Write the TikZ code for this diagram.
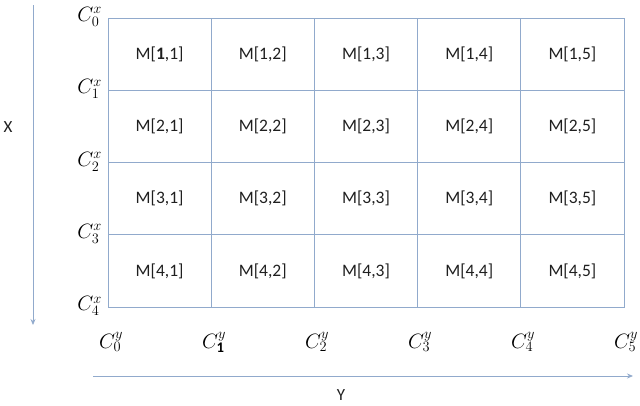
\documentclass[tikz,border=0pt]{standalone}
\usepackage{fontspec}
\setmainfont{Carlito}
\usetikzlibrary{arrows.meta}
\definecolor{gridblue}{RGB}{145,170,204}
\begin{document}
\begin{tikzpicture}[x=1pt,y=-1pt,
  cell/.style={draw=gridblue,line width=0.8pt,minimum width=103.2pt,minimum height=72.25pt,inner sep=0pt,font=\fontsize{17.5}{20}\selectfont,text=black!88},
  clab/.style={font=\fontsize{21}{24}\selectfont,inner sep=0pt},
  axis/.style={draw=gridblue,line width=0.8pt,-{Stealth[length=6pt,width=5pt]}},
  axlab/.style={font=\fontsize{17}{19}\selectfont,inner sep=0pt,text=black!88}]
\useasboundingbox (0,0) rectangle (640,405);
\foreach \r in {1,...,4}{
  \foreach \c in {1,...,5}{
    \ifnum\r=1 \ifnum\c=1
      \node[cell] (m\r\c) at ({108+103.2*(\c-0.5)},{18+72.25*(\r-0.5)}) {M[\textbf{1},1]};
    \else
      \node[cell] (m\r\c) at ({108+103.2*(\c-0.5)},{18+72.25*(\r-0.5)}) {M[\r,\c]};
    \fi\else
      \node[cell] (m\r\c) at ({108+103.2*(\c-0.5)},{18+72.25*(\r-0.5)}) {M[\r,\c]};
    \fi
  }
}
\foreach \r in {0,...,4}{
  \node[clab,anchor=east] (cx\r) at (102,{18+72.25*\r-1}) {$C_{\r}^{x}$};
}
\foreach \c in {0,...,5}{
  \ifnum\c=1
    \node[clab] (cy\c) at ({111+103*\c},342) {$C_{\mathbf{1}}^{y}$};
  \else
    \node[clab] (cy\c) at ({111+103*\c},342) {$C_{\c}^{y}$};
  \fi
}
\coordinate (xs) at (33,5);
\coordinate (xe) at (33,325);
\coordinate (ys) at (93,376);
\coordinate (ye) at (633,376);
\draw[axis] (xs) -- (xe);
\draw[axis] (ys) -- (ye);
\node[axlab] (xl) at (8,127) {X};
\node[axlab] (yl) at (341,395) {Y};
\end{tikzpicture}
\end{document}
